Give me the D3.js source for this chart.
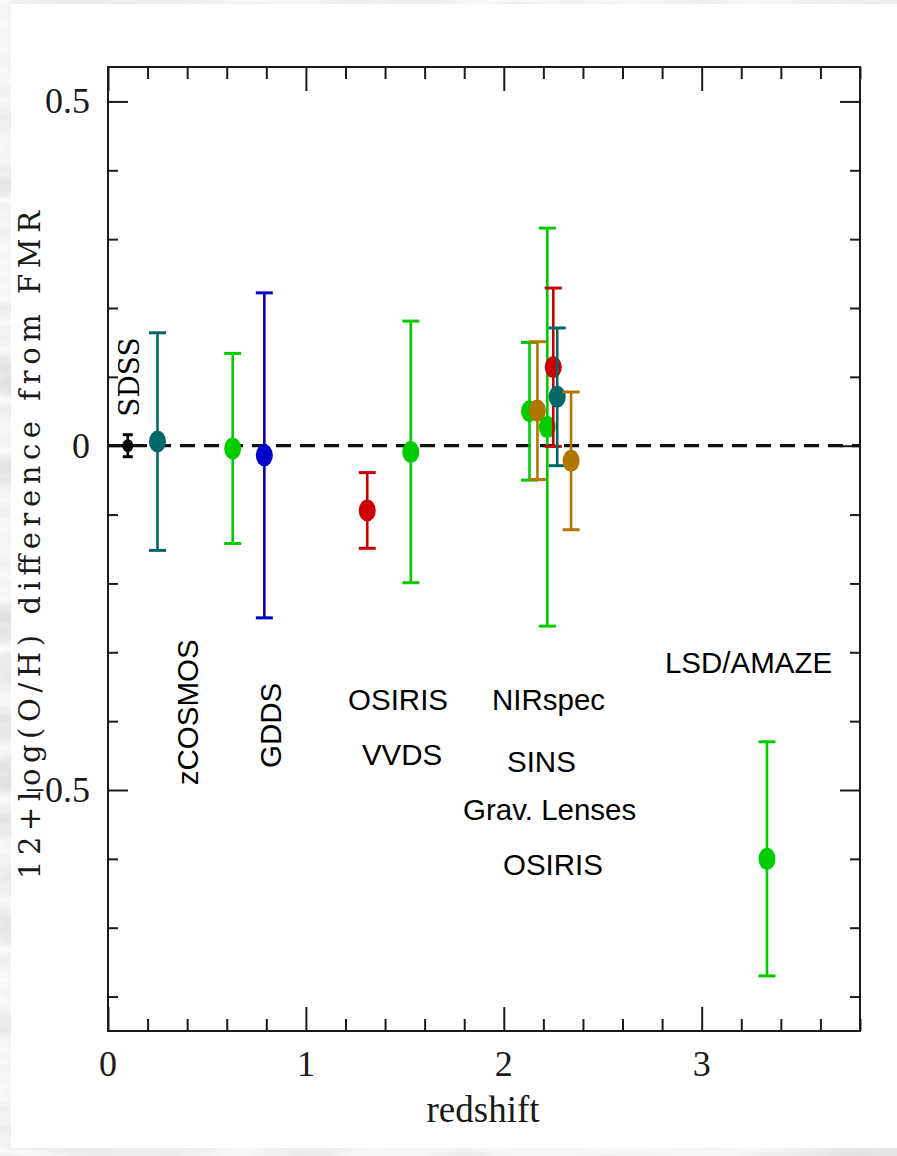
<!DOCTYPE html>
<html>
<head>
<meta charset="utf-8">
<script src="https://cdn.jsdelivr.net/npm/d3@7"></script>
<style>
  html, body { margin: 0; padding: 0; background: #e4e4e4; }
  svg { display: block; }
</style>
</head>
<body>
<script>
// Offset of each sample from the fundamental metallicity relation (FMR)
const redshift = [0.10, 0.25, 0.63, 0.79, 1.31, 1.53, 2.13, 2.17, 2.22, 2.25, 2.27, 2.34, 3.33];
const offset   = [0.000, 0.006, -0.004, -0.014, -0.094, -0.009, 0.050, 0.051, 0.027, 0.114, 0.071, -0.022, -0.600];
const errorBar = [0.016, 0.158, 0.138, 0.236, 0.055, 0.190, 0.100, 0.100, 0.289, 0.115, 0.100, 0.100, 0.170];
const sampleGroup = ["local", "teal", "green", "blue", "red", "green", "green", "gold", "green", "red", "teal", "gold", "green"];

const groupKeys = ["local", "teal", "green", "blue", "red", "gold"];
const groupColours = ["#000000", "#006868", "#00cc00", "#0000cc", "#cc0000", "#b07800"];

// Survey names written inside the plot
const surveyNames = ["SDSS", "zCOSMOS", "GDDS", "OSIRIS", "VVDS", "NIRspec", "SINS", "Grav. Lenses", "OSIRIS", "LSD/AMAZE"];

// Axis ticks
const xMajorTicks = [0, 1, 2, 3];
const xTickLabels = ["0", "1", "2", "3"];
const yMajorTicks = [0.5, 0, -0.5];
const yTickLabels = ["0.5", "0", "\u22120.5"];

const W = 897, H = 1156;
const frame = { left: 108, right: 860, top: 67, bottom: 1031 };

const svg = d3.select("body").append("svg")
  .attr("width", W).attr("height", H);

// Light marbled backdrop behind the white sheet
const defs = svg.append("defs");
const marble = defs.append("filter").attr("id", "marble")
  .attr("x", 0).attr("y", 0).attr("width", "100%").attr("height", "100%");
marble.append("feTurbulence").attr("type", "turbulence")
  .attr("baseFrequency", "0.004 0.02").attr("numOctaves", 4).attr("seed", 7);
marble.append("feColorMatrix").attr("type", "matrix")
  .attr("values", "-0.35 0 0 0 0.97  -0.35 0 0 0 0.97  -0.35 0 0 0 0.97  0 0 0 0 1");
svg.append("rect").attr("width", W).attr("height", H).attr("filter", "url(#marble)");

svg.append("rect").attr("x", 11).attr("y", 4).attr("width", W - 11).attr("height", 1144)
  .attr("fill", "#ffffff");

const x = d3.scaleLinear().domain([0, 3.8]).range([frame.left, frame.right]);
const y = d3.scaleLinear().domain([-0.85, 0.55]).range([frame.bottom, frame.top]);
const colour = d3.scaleOrdinal().domain(groupKeys).range(groupColours);

const ink = "#1a1a1a";

// Axes: ticks on all four sides, labels on bottom and left only
const xMinor = d3.range(0, 3.8001, 0.2).filter(v => Math.abs(v - Math.round(v)) > 1e-6);
const yMinor = d3.range(-0.8, 0.5001, 0.1).filter(v => Math.abs(v * 2 - Math.round(v * 2)) > 1e-6);

function axisLayer(axis, transform) {
  const g = svg.append("g").attr("transform", transform).call(axis);
  g.select(".domain").remove();
  g.selectAll(".tick line").attr("stroke", ink).attr("stroke-width", 2);
  return g;
}

// bottom
axisLayer(d3.axisTop(x).tickValues(xMajorTicks).tickSize(24).tickFormat(""), `translate(0,${frame.bottom})`);
axisLayer(d3.axisTop(x).tickValues(xMinor).tickSize(12).tickFormat(""), `translate(0,${frame.bottom})`);
// top
axisLayer(d3.axisBottom(x).tickValues(xMajorTicks).tickSize(24).tickFormat(""), `translate(0,${frame.top})`);
axisLayer(d3.axisBottom(x).tickValues(xMinor).tickSize(12).tickFormat(""), `translate(0,${frame.top})`);
// left
axisLayer(d3.axisRight(y).tickValues(yMajorTicks).tickSize(20).tickFormat(""), `translate(${frame.left},0)`);
axisLayer(d3.axisRight(y).tickValues(yMinor).tickSize(10).tickFormat(""), `translate(${frame.left},0)`);
// right
axisLayer(d3.axisLeft(y).tickValues(yMajorTicks).tickSize(20).tickFormat(""), `translate(${frame.right},0)`);
axisLayer(d3.axisLeft(y).tickValues(yMinor).tickSize(10).tickFormat(""), `translate(${frame.right},0)`);

svg.append("rect")
  .attr("x", frame.left).attr("y", frame.top)
  .attr("width", frame.right - frame.left).attr("height", frame.bottom - frame.top)
  .attr("fill", "none").attr("stroke", ink).attr("stroke-width", 2);

const tickFont = "'Liberation Serif', 'Times New Roman', serif";

svg.append("g").selectAll("text").data(xMajorTicks).join("text")
  .attr("x", d => x(d)).attr("y", frame.bottom + 45)
  .attr("text-anchor", "middle")
  .attr("font-family", tickFont).attr("font-size", 36).attr("fill", ink)
  .text((d, i) => xTickLabels[i]);

svg.append("g").selectAll("text").data(yMajorTicks).join("text")
  .attr("x", 90).attr("y", d => y(d) + 12)
  .attr("text-anchor", "end")
  .attr("font-family", tickFont).attr("font-size", 36).attr("fill", ink)
  .text((d, i) => yTickLabels[i]);

svg.append("text")
  .attr("x", x(1.895)).attr("y", 1122)
  .attr("text-anchor", "middle")
  .attr("font-family", tickFont).attr("font-size", 37).attr("fill", ink)
  .text("redshift");

svg.append("text")
  .attr("transform", "translate(40,545) rotate(-90)")
  .attr("text-anchor", "middle")
  .attr("font-family", "'DejaVu Serif', serif").attr("font-size", 29).attr("fill", ink)
  .attr("textLength", 668).attr("lengthAdjust", "spacing")
  .text("12+log(O/H) difference from FMR");

// Reference line: zero offset from the FMR
svg.append("line")
  .attr("x1", x(0)).attr("x2", x(3.8))
  .attr("y1", y(0)).attr("y2", y(0))
  .attr("stroke", "#111").attr("stroke-width", 3.2)
  .attr("stroke-dasharray", "15 9");

// Data points with symmetric error bars
const points = redshift.map((z, i) => ({ z, v: offset[i], e: errorBar[i], g: sampleGroup[i] }));

const pg = svg.append("g").selectAll("g").data(points).join("g");
pg.each(function (d) {
  const g = d3.select(this);
  const c = colour(d.g);
  const local = d.g === "local";
  const cap = local ? 5 : 8.5;
  const px = x(d.z);
  g.append("line").attr("x1", px).attr("x2", px)
    .attr("y1", y(d.v + d.e)).attr("y2", y(d.v - d.e))
    .attr("stroke", c).attr("stroke-width", 2.6);
  [d.v + d.e, d.v - d.e].forEach(v => {
    g.append("line").attr("x1", px - cap).attr("x2", px + cap)
      .attr("y1", y(v)).attr("y2", y(v))
      .attr("stroke", c).attr("stroke-width", 3);
  });
  g.append("ellipse").attr("cx", px).attr("cy", y(d.v))
    .attr("rx", local ? 5.5 : 8.5).attr("ry", local ? 6.5 : 11)
    .attr("fill", c);
});

// Survey names
const sansFont = "'Liberation Sans', Arial, sans-serif";
const labelLayout = [
  { z: 0.157, v: 0.042, rotate: true, serif: true },
  { z: 0.455, v: -0.493, rotate: true },
  { z: 0.874, v: -0.468, rotate: true },
  { z: 1.213, v: -0.384 },
  { z: 1.283, v: -0.464 },
  { z: 1.940, v: -0.384 },
  { z: 2.016, v: -0.474 },
  { z: 1.794, v: -0.544 },
  { z: 1.996, v: -0.624 },
  { z: 2.814, v: -0.330 }
];

svg.append("g").selectAll("text").data(surveyNames).join("text")
  .attr("transform", (d, i) => {
    const L = labelLayout[i];
    return `translate(${x(L.z)},${y(L.v)})` + (L.rotate ? " rotate(-90)" : "");
  })
  .attr("font-family", (d, i) => labelLayout[i].serif ? "'DejaVu Serif', serif" : sansFont)
  .attr("font-size", (d, i) => labelLayout[i].serif ? 28 : 29.5)
  .attr("fill", "#000")
  .text(d => d);
</script>
</body>
</html>
